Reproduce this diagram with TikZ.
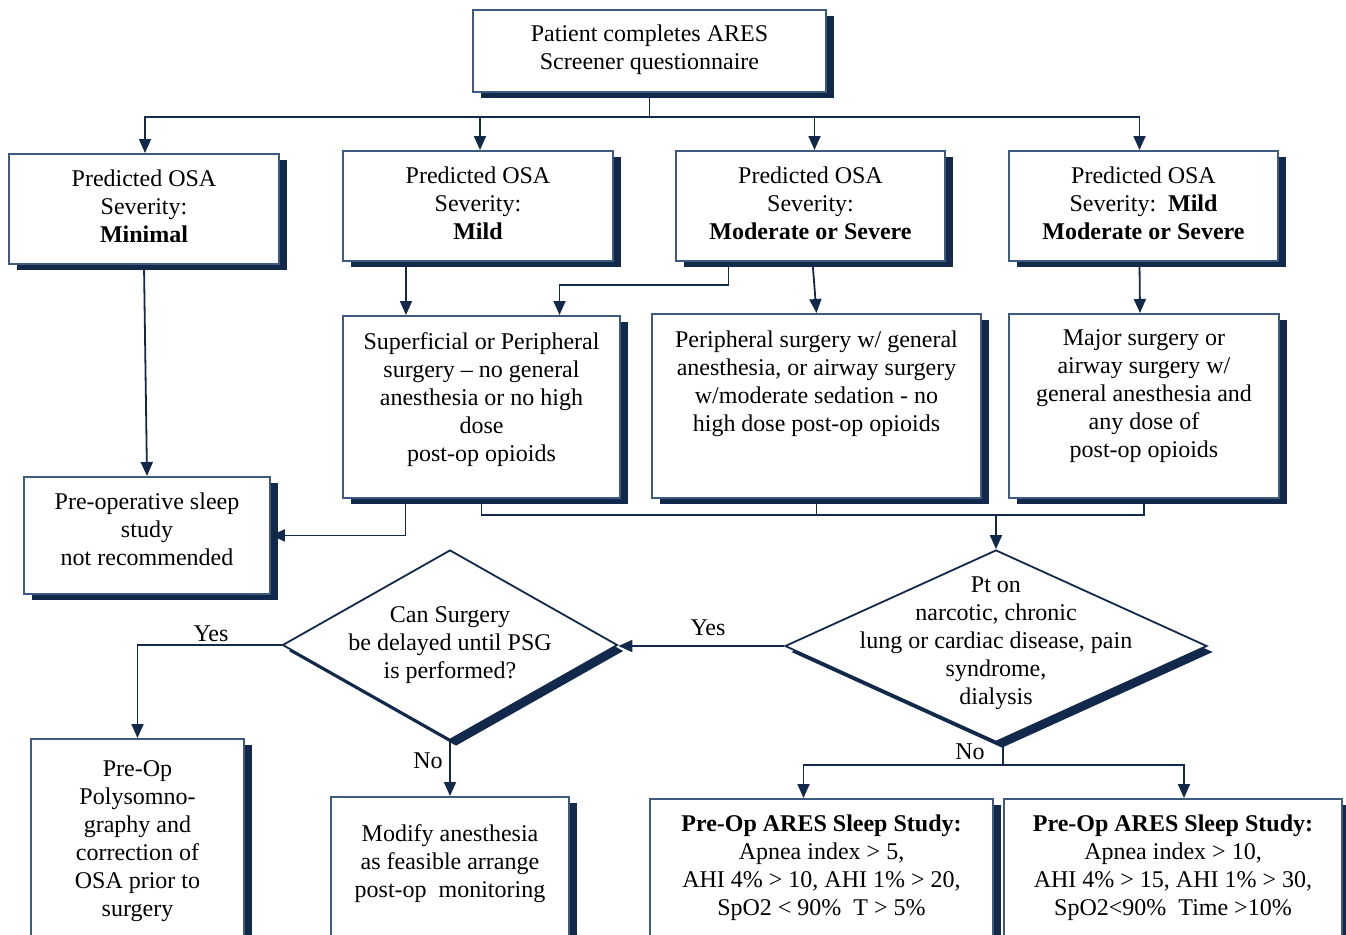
\documentclass[tikz,border=0pt]{standalone}
\usepackage{fontspec}
\setmainfont{Liberation Serif}
\usetikzlibrary{arrows.meta,shapes.geometric,shadows}
\definecolor{navy}{HTML}{13294B}
\definecolor{boxline}{HTML}{3D5A80}

\begin{document}
\begin{tikzpicture}[x=0.5pt, y=-0.5pt, font=\fontsize{12}{14}\selectfont,
  box/.style n args={3}{draw=boxline, line width=0.9pt, fill=white, inner sep=0pt, anchor=north,
    drop shadow={fill=navy, opacity=1, shadow xshift=4pt, shadow yshift=-3pt},
    execute at begin node={\begin{minipage}[c][#2][t]{#1}\centering\vspace*{#3}},
    execute at end node={\end{minipage}}},
  decision/.style={shape=diamond, draw=navy, line width=0.9pt, fill=white, inner sep=0pt,
    drop shadow={fill=navy, opacity=1, shadow xshift=3pt, shadow yshift=-3pt}},
  line/.style={draw=navy, line width=0.9pt},
  arr/.style={line, -{Triangle[width=6pt,length=7pt]}}]
  \clip (0,0) rectangle (1346,934);

  \node[box={176.5pt}{41pt}{7.5pt}] (ares) at (649.5,9) {Patient completes ARES\\Screener questionnaire};

  \node[box={135pt}{55pt}{8pt}] (minimal) at (144,153) {Predicted OSA\\Severity:\\\textbf{Minimal}};
  \node[box={135pt}{55pt}{8pt}] (mild) at (478,150) {Predicted OSA\\Severity:\\\textbf{Mild}};
  \node[box={134.5pt}{55pt}{8pt}] (modsev) at (810.5,150) {Predicted OSA\\Severity:\\\textbf{Moderate or Severe}};
  \node[box={134.5pt}{55pt}{8pt}] (mildmodsev) at (1143.5,150) {Predicted OSA\\Severity:~~\textbf{Mild}\\\textbf{Moderate or Severe}};

  \node[box={138.5pt}{91pt}{8.5pt}] (superficial) at (481.5,315) {Superficial or Peripheral\\surgery -- no general\\anesthesia or no high\\dose\\post-op opioids};
  \node[box={164.5pt}{92pt}{8.5pt}] (peripheral) at (816.5,313) {Peripheral surgery w/ general\\anesthesia, or airway surgery\\w/moderate sedation - no\\high dose post-op opioids};
  \node[box={135pt}{92pt}{8pt}] (major) at (1144,313) {Major surgery or\\airway surgery w/\\general anesthesia and\\any dose of\\post-op opioids};
  \node[box={123pt}{58.5pt}{8pt}] (notrec) at (147,476) {Pre-operative sleep\\study\\not recommended};

  \node[decision, minimum width=211pt, minimum height=96pt] (ptq) at (996,646) {};
  \node[align=center] (ptq-text) at (996,643) {Pt on\\narcotic, chronic\\lung or cardiac disease, pain\\syndrome,\\dialysis};
  \node[decision, minimum width=167.5pt, minimum height=95pt] (delay) at (450,645) {};
  \node[align=center] (delay-text) at (450,645) {Can Surgery\\be delayed until PSG\\is performed?};

  \node[box={106.5pt}{105pt}{11pt}] (psg) at (137.5,738) {Pre-Op\\Polysomno-\\graphy and\\correction of\\OSA prior to\\surgery};
  \node[box={119pt}{75pt}{14pt}] (modify) at (450,796) {Modify anesthesia\\as feasible arrange\\post-op~~monitoring};
  \node[box={171.5pt}{75pt}{8pt}] (study1) at (821.5,798) {\textbf{Pre-Op ARES Sleep Study:}\\Apnea index > 5,\\AHI 4\% > 10, AHI 1\% > 20,\\SpO2 < 90\%~~T > 5\%};
  \node[box={169pt}{75pt}{8pt}] (study2) at (1173,798) {\textbf{Pre-Op ARES Sleep Study:}\\Apnea index > 10,\\AHI 4\% > 15, AHI 1\% > 30,\\SpO2<90\%~~Time >10\%};

  % questionnaire splits to the four severities
  \draw[line] (ares.south) -- ++(0,24) coordinate (fork);
  \foreach \n/\dx in {minimal/0.5pt,mild/1pt,modsev/2pt,mildmodsev/-2pt}
    \draw[arr] (fork) -| ([xshift=\dx]\n.north);

  \draw[arr] (minimal.south) -- (notrec.north);
  \draw[arr] ([xshift=-36pt]mild.south) -- ([xshift=-36pt]mild.south |- superficial.north);
  \draw[arr] ([xshift=-41pt]modsev.south) -- ++(0,23) -| ([xshift=39pt]superficial.north);
  \draw[arr] ([xshift=1pt]modsev.south) -- (peripheral.north);
  \draw[arr] ([xshift=-2pt]mildmodsev.south) -- ([xshift=-2pt]major.north);
  \draw[arr] ([xshift=-38pt]superficial.south) |- (notrec.east);

  % surgery types merge into the first question
  \coordinate (merge) at (996,515);
  \draw[line] (superficial.south) |- (merge);
  \draw[line] (major.south) |- (merge);
  \draw[line] (peripheral.south) -- (peripheral.south |- merge);
  \draw[arr] (merge) -- (ptq.north);

  \draw[arr] (ptq.west) -- (ptq.west -| delay.east);
  \node (yes1) at (708,628) {Yes};
  \draw[arr] (delay.west) -| (psg.north);
  \node (yes2) at (211,634) {Yes};
  \draw[arr] (delay.south) -- (modify.north);
  \node (no1) at (428,761) {No};

  \draw[line] ([xshift=3.5pt]ptq.south) -- ++(0,22) coordinate (nofork);
  \draw[arr] (nofork) -| ([xshift=-9pt]study1.north);
  \draw[arr] (nofork) -| ([xshift=5.5pt]study2.north);
  \node (no2) at (970,752) {No};
\end{tikzpicture}
\end{document}
